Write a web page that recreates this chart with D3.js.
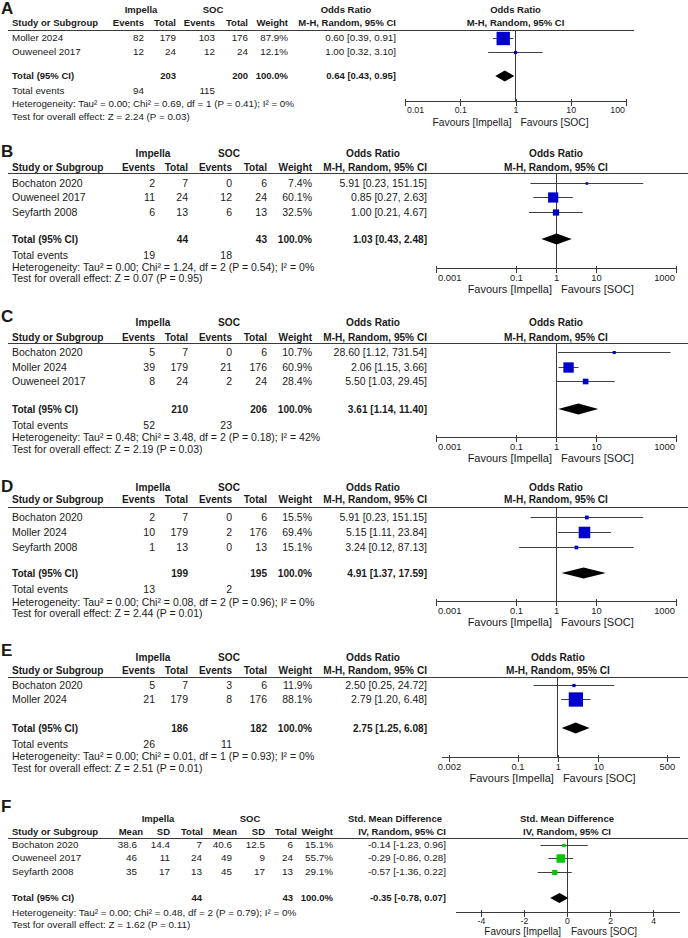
<!DOCTYPE html>
<html><head><meta charset="utf-8">
<script src="https://cdn.jsdelivr.net/npm/d3@7"></script>
<style>
body{margin:0;background:#fff}
svg text{font-family:"Liberation Sans",Arial,Helvetica,sans-serif;fill:#1a1a1a}
</style>
</head><body>
<svg id="c" width="688" height="938"></svg>
<script>
// ---------------- DATA ----------------
// Panel A
const studiesA = ["Moller 2024", "Ouweneel 2017"];
const impEvA = [82, 12], impNA = [179, 24], socEvA = [103, 12], socNA = [176, 24];
const weightA = [87.9, 12.1];
const orA = [0.60, 1.00], loA = [0.39, 0.32], hiA = [0.91, 3.10];
const totalNA = [203, 200], pooledA = [0.64, 0.43, 0.95], totalEvA = [94, 115];
const hetA = "Heterogeneity: Tau² = 0.00; Chi² = 0.69, df = 1 (P = 0.41); I² = 0%";
const testA = "Test for overall effect: Z = 2.24 (P = 0.03)";
const ticksA = [0.01, 0.1, 1, 10, 100];

// Panel B
const studiesB = ["Bochaton 2020", "Ouweneel 2017", "Seyfarth 2008"];
const impEvB = [2, 11, 6], impNB = [7, 24, 13], socEvB = [0, 12, 6], socNB = [6, 24, 13];
const weightB = [7.4, 60.1, 32.5];
const orB = [5.91, 0.85, 1.00], loB = [0.23, 0.27, 0.21], hiB = [151.15, 2.63, 4.67];
const totalNB = [44, 43], pooledB = [1.03, 0.43, 2.48], totalEvB = [19, 18];
const hetB = "Heterogeneity: Tau² = 0.00; Chi² = 1.24, df = 2 (P = 0.54); I² = 0%";
const testB = "Test for overall effect: Z = 0.07 (P = 0.95)";
const ticksB = [0.001, 0.1, 1, 10, 1000];

// Panel C
const studiesC = ["Bochaton 2020", "Moller 2024", "Ouweneel 2017"];
const impEvC = [5, 39, 8], impNC = [7, 179, 24], socEvC = [0, 21, 2], socNC = [6, 176, 24];
const weightC = [10.7, 60.9, 28.4];
const orC = [28.60, 2.06, 5.50], loC = [1.12, 1.15, 1.03], hiC = [731.54, 3.66, 29.45];
const totalNC = [210, 206], pooledC = [3.61, 1.14, 11.40], totalEvC = [52, 23];
const hetC = "Heterogeneity: Tau² = 0.48; Chi² = 3.48, df = 2 (P = 0.18); I² = 42%";
const testC = "Test for overall effect: Z = 2.19 (P = 0.03)";
const ticksC = [0.001, 0.1, 1, 10, 1000];

// Panel D
const studiesD = ["Bochaton 2020", "Moller 2024", "Seyfarth 2008"];
const impEvD = [2, 10, 1], impND = [7, 179, 13], socEvD = [0, 2, 0], socND = [6, 176, 13];
const weightD = [15.5, 69.4, 15.1];
const orD = [5.91, 5.15, 3.24], loD = [0.23, 1.11, 0.12], hiD = [151.15, 23.84, 87.13];
const totalND = [199, 195], pooledD = [4.91, 1.37, 17.59], totalEvD = [13, 2];
const hetD = "Heterogeneity: Tau² = 0.00; Chi² = 0.08, df = 2 (P = 0.96); I² = 0%";
const testD = "Test for overall effect: Z = 2.44 (P = 0.01)";
const ticksD = [0.001, 0.1, 1, 10, 1000];

// Panel E
const studiesE = ["Bochaton 2020", "Moller 2024"];
const impEvE = [5, 21], impNE = [7, 179], socEvE = [3, 8], socNE = [6, 176];
const weightE = [11.9, 88.1];
const orE = [2.50, 2.79], loE = [0.25, 1.20], hiE = [24.72, 6.48];
const totalNE = [186, 182], pooledE = [2.75, 1.25, 6.08], totalEvE = [26, 11];
const hetE = "Heterogeneity: Tau² = 0.00; Chi² = 0.01, df = 1 (P = 0.93); I² = 0%";
const testE = "Test for overall effect: Z = 2.51 (P = 0.01)";
const ticksE = [0.002, 0.1, 1, 10, 500];

// Panel F
const studiesF = ["Bochaton 2020", "Ouweneel 2017", "Seyfarth 2008"];
const impMeanF = [38.6, 46, 35], impSdF = [14.4, 11, 17], impNF = [7, 24, 13];
const socMeanF = [40.6, 49, 45], socSdF = [12.5, 9, 17], socNF = [6, 24, 13];
const weightF = [15.1, 55.7, 29.1];
const smdF = [-0.14, -0.29, -0.57], loF = [-1.23, -0.86, -1.36], hiF = [0.96, 0.28, 0.22];
const totalNF = [44, 43], pooledF = [-0.35, -0.78, 0.07];
const hetF = "Heterogeneity: Tau² = 0.00; Chi² = 0.48, df = 2 (P = 0.79); I² = 0%";
const testF = "Test for overall effect: Z = 1.62 (P = 0.11)";
const ticksF = [-4, -2, 0, 2, 4];

// ---------------- DRAWING ----------------
const svg = d3.select("#c");
const f2 = d3.format(".2f"), f1 = d3.format(".1f");
const INK = "#1a1a1a", LINE = "#3a3a3a";

function txt(x, y, s, fs, opt = {}) {
  return svg.append("text").attr("x", x).attr("y", y).attr("dy", "0.35em")
    .attr("text-anchor", opt.a || "start").attr("font-size", fs)
    .attr("font-weight", opt.b ? "bold" : "normal").text(s);
}
function ciText(v, lo, hi) { return `${f2(v).replace("−", "-")} [${f2(lo).replace("−", "-")}, ${f2(hi).replace("−", "-")}]`; }
function hline(x1, x2, y, c) {
  svg.append("line").attr("x1", x1).attr("x2", x2).attr("y1", y).attr("y2", y)
    .attr("stroke", c || LINE).attr("stroke-width", 1).attr("shape-rendering", "crispEdges");
}
function vline(x, y1, y2, c) {
  svg.append("line").attr("x1", x).attr("x2", x).attr("y1", y1).attr("y2", y2)
    .attr("stroke", c || LINE).attr("stroke-width", 1).attr("shape-rendering", "crispEdges");
}
function drawAxis(x, L, ticks) {
  const dom = x.domain();
  const g = svg.append("g").attr("transform", `translate(0,${L.axisY})`)
    .call(d3.axisBottom(x).tickValues(ticks).tickSize(5).tickSizeOuter(0).tickPadding(1)
      .tickFormat(v => String(v)));
  g.attr("font-size", L.tickFs);
  g.select(".domain").attr("stroke", LINE).attr("shape-rendering", "crispEdges");
  g.selectAll(".tick line").attr("y1", -2).attr("stroke", LINE).attr("shape-rendering", "crispEdges");
  g.selectAll(".tick text").attr("fill", INK)
    .attr("text-anchor", v => v === dom[0] ? "start" : v === dom[1] ? "end" : "middle")
    .attr("dx", v => v === dom[0] ? 1.5 : v === dom[1] ? -1.5 : 0);
  const c = x(L.center);
  const fy = L.axisY + (L.favOff || 21);
  txt(c - L.favGap[0], fy, "Favours [Impella]", L.favFs, { a: "end" });
  txt(c + L.favGap[1], fy, "Favours [SOC]", L.favFs, { a: "start" });
}
function drawMarks(x, L, est, lo, hi, w, pooled, color) {
  const box = d3.scaleLinear().domain([0, 100]).range([1.5, L.boxMax]);
  est.forEach((e, i) => {
    const y = L.rowsY[i];
    svg.append("line").attr("x1", x(lo[i])).attr("x2", x(hi[i])).attr("y1", y + 0.5).attr("y2", y + 0.5)
      .attr("stroke", "#404040").attr("stroke-width", 1);
    const s = box(w[i]);
    svg.append("rect").attr("x", x(e) - s / 2).attr("y", y + 0.5 - s / 2)
      .attr("width", s).attr("height", s).attr("fill", color);
  });
  const yt = L.totY, h = L.diaH / 2;
  svg.append("path")
    .attr("d", `M${x(pooled[1])},${yt}L${x(pooled[0])},${yt - h}L${x(pooled[2])},${yt}L${x(pooled[0])},${yt + h}Z`)
    .attr("fill", "#000");
}

function orPanel(label, studies, iEv, iN, sEv, sN, w, est, lo, hi, totN, pooled, totEv, het, test, ticks, L) {
  const fs = L.fs, bf = L.bfs, c = L.cols;
  const x = d3.scaleLog().domain(L.dom).range(L.axX);
  txt(1, L.labY, label, 17, { b: true });
  txt(L.gImp, L.grpY, "Impella", bf, { b: true, a: "middle" });
  txt(L.gSoc, L.grpY, "SOC", bf, { b: true, a: "middle" });
  txt(L.gCi, L.grpY, "Odds Ratio", bf, { b: true, a: "middle" });
  txt(x(1), L.grpY, "Odds Ratio", bf, { b: true, a: "middle" });
  txt(c[0], L.hdrY, "Study or Subgroup", bf, { b: true });
  ["Events", "Total", "Events", "Total", "Weight", "M-H, Random, 95% CI"].forEach((h, k) =>
    txt(c[k + 1], L.hdrY, h, bf, { b: true, a: "end" }));
  txt(x(1), L.hdrY, "M-H, Random, 95% CI", bf, { b: true, a: "middle" });
  hline(L.lineX[0], L.lineX[1], L.lineY);
  vline(x(1), L.lineY, L.axisY);
  studies.forEach((s, i) => {
    const y = L.rowsY[i];
    txt(c[0], y, s, fs);
    txt(c[1], y, iEv[i], fs, { a: "end" });
    txt(c[2], y, iN[i], fs, { a: "end" });
    txt(c[3], y, sEv[i], fs, { a: "end" });
    txt(c[4], y, sN[i], fs, { a: "end" });
    txt(c[5], y, f1(w[i]) + "%", fs, { a: "end" });
    txt(c[6], y, ciText(est[i], lo[i], hi[i]), fs, { a: "end" });
  });
  txt(c[0], L.totY, "Total (95% CI)", bf, { b: true });
  txt(c[2], L.totY, totN[0], bf, { b: true, a: "end" });
  txt(c[4], L.totY, totN[1], bf, { b: true, a: "end" });
  txt(c[5], L.totY, "100.0%", bf, { b: true, a: "end" });
  txt(c[6], L.totY, ciText(pooled[0], pooled[1], pooled[2]), bf, { b: true, a: "end" });
  txt(c[0], L.evY, "Total events", fs);
  txt(c[1], L.evY, totEv[0], fs, { a: "end" });
  txt(c[3], L.evY, totEv[1], fs, { a: "end" });
  txt(c[0], L.hetY, het, fs);
  txt(c[0], L.testY, test, fs);
  drawAxis(x, Object.assign({ center: 1 }, L), ticks);
  drawMarks(x, L, est, lo, hi, w, pooled, "#0000cc");
}

const colsBE = [12, 155, 188, 232, 267, 312, 427];
const baseBE = { fs: 10.5, bfs: 10.1, tickFs: 9.4, favFs: 11, favGap: [4, 5], cols: colsBE, gImp: 153, gSoc: 229, gCi: 373,
  lineX: [8, 688], axX: [436, 676], dom: [0.001, 1000], boxMax: 16, diaH: 11 };

orPanel("A", studiesA, impEvA, impNA, socEvA, socNA, weightA, orA, loA, hiA, totalNA, pooledA, totalEvA, hetA, testA, ticksA,
  { fs: 9.8, bfs: 9.5, tickFs: 8.8, favFs: 10.3, favGap: [4, 5], cols: [12, 144, 176, 215, 248, 288, 396],
    gImp: 141, gSoc: 213, gCi: 346, lineX: [8, 634],
    labY: 8.5, grpY: 10, hdrY: 23, lineY: 30, rowsY: [38, 52], totY: 76, evY: 91, hetY: 104, testY: 117,
    axisY: 101, axX: [405, 626], dom: [0.01, 100], boxMax: 15, diaH: 11 });

orPanel("B", studiesB, impEvB, impNB, socEvB, socNB, weightB, orB, loB, hiB, totalNB, pooledB, totalEvB, hetB, testB, ticksB,
  Object.assign({}, baseBE, { labY: 151, grpY: 153, hdrY: 167, lineY: 173, rowsY: [183, 197, 212], totY: 239,
    evY: 255, hetY: 267, testY: 278, axisY: 268 }));

orPanel("C", studiesC, impEvC, impNC, socEvC, socNC, weightC, orC, loC, hiC, totalNC, pooledC, totalEvC, hetC, testC, ticksC,
  Object.assign({}, baseBE, { labY: 316, grpY: 322, hdrY: 337, lineY: 343, rowsY: [352, 367, 381], totY: 409,
    evY: 425, hetY: 437, testY: 449, axisY: 437 }));

orPanel("D", studiesD, impEvD, impND, socEvD, socND, weightD, orD, loD, hiD, totalND, pooledD, totalEvD, hetD, testD, ticksD,
  Object.assign({}, baseBE, { labY: 486, grpY: 487, hdrY: 499, lineY: 507, rowsY: [517, 532, 547], totY: 573,
    evY: 589, hetY: 602, testY: 613, axisY: 601 }));

orPanel("E", studiesE, impEvE, impNE, socEvE, socNE, weightE, orE, loE, hiE, totalNE, pooledE, totalEvE, hetE, testE, ticksE,
  Object.assign({}, baseBE, { labY: 650, grpY: 657, hdrY: 670, lineY: 677, rowsY: [685, 699], totY: 728,
    evY: 744, hetY: 756, testY: 768, axisY: 757, axX: [441, 679], dom: [0.00127, 1000] }));

// Panel F (continuous outcome)
(function () {
  const L = { fs: 9.9, bfs: 9.5, tickFs: 8.6, favFs: 10, favGap: [6, 4], favOff: 19.5, labY: 806, grpY: 819, hdrY: 832, lineY: 838,
    rowsY: [845, 858, 872], totY: 898, hetY: 913, testY: 925, axisY: 912, axX: [455, 679], dom: [-5.2, 5.2],
    boxMax: 14, diaH: 10, center: 0 };
  const fs = L.fs, bf = L.bfs;
  const hdrX = [143, 170, 203, 237, 265, 297, 333, 446];
  const valX = [137, 170, 202, 232, 265, 293, 333, 446];
  const x = d3.scaleLinear().domain(L.dom).range(L.axX);
  txt(1, L.labY, "F", 17, { b: true });
  txt(158, L.grpY, "Impella", bf, { b: true, a: "middle" });
  txt(250, L.grpY, "SOC", bf, { b: true, a: "middle" });
  txt(395, L.grpY, "Std. Mean Difference", bf, { b: true, a: "middle" });
  txt(x(0), L.grpY, "Std. Mean Difference", bf, { b: true, a: "middle" });
  txt(12, L.hdrY, "Study or Subgroup", bf, { b: true });
  ["Mean", "SD", "Total", "Mean", "SD", "Total", "Weight", "IV, Random, 95% CI"].forEach((h, k) =>
    txt(hdrX[k], L.hdrY, h, bf, { b: true, a: "end" }));
  txt(x(0), L.hdrY, "IV, Random, 95% CI", bf, { b: true, a: "middle" });
  hline(8, 688, L.lineY);
  vline(x(0), L.lineY, L.axisY);
  studiesF.forEach((s, i) => {
    const y = L.rowsY[i];
    txt(12, y, s, fs);
    [impMeanF[i], impSdF[i], impNF[i], socMeanF[i], socSdF[i], socNF[i], f1(weightF[i]) + "%",
      ciText(smdF[i], loF[i], hiF[i])].forEach((v, k) => txt(valX[k], y, v, fs, { a: "end" }));
  });
  txt(12, L.totY, "Total (95% CI)", bf, { b: true });
  txt(valX[2], L.totY, totalNF[0], bf, { b: true, a: "end" });
  txt(valX[5], L.totY, totalNF[1], bf, { b: true, a: "end" });
  txt(valX[6], L.totY, "100.0%", bf, { b: true, a: "end" });
  txt(valX[7], L.totY, ciText(pooledF[0], pooledF[1], pooledF[2]), bf, { b: true, a: "end" });
  txt(12, L.hetY, hetF, fs);
  txt(12, L.testY, testF, fs);
  drawAxis(x, L, ticksF);
  drawMarks(x, L, smdF, loF, hiF, weightF, pooledF, "#00c800");
})();
</script>
</body></html>
